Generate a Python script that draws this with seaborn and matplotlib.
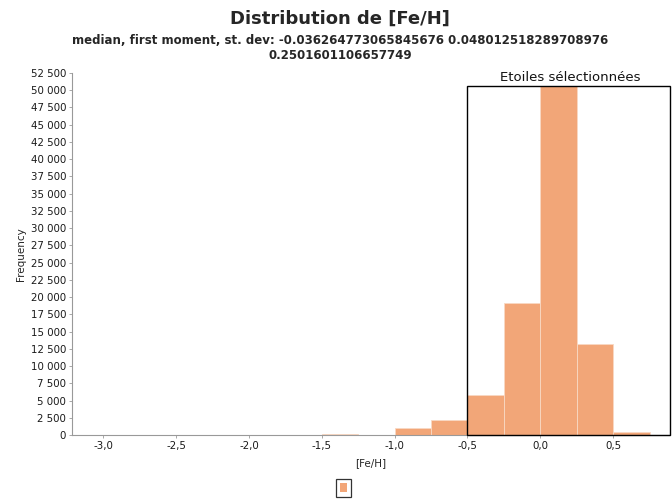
import matplotlib
matplotlib.use("Agg")
import matplotlib.pyplot as plt
import matplotlib.ticker as mticker
from matplotlib.patches import Rectangle, Patch
import numpy as np
import seaborn as sns

# ---- data ----
bin_edges = [-1.5, -1.25, -1.0, -0.75, -0.5, -0.25, 0.0, 0.25, 0.5, 0.75]
counts = [150, 60, 1070, 2230, 5750, 19150, 58000, 13250, 450]
x_ticks = [-3.0, -2.5, -2.0, -1.5, -1.0, -0.5, 0.0, 0.5]
y_ticks = list(range(0, 52501, 2500))
title = "Distribution de [Fe/H]"
subtitle = "median, first moment, st. dev: -0.036264773065845676 0.048012518289708976\n0.2501601106657749"
marker_label = "Etoiles sélectionnées"
marker_start = -0.5

centers = [(a + b) / 2 for a, b in zip(bin_edges[:-1], bin_edges[1:])]

sns.set_style("white")
plt.rcParams["font.family"] = ["DejaVu Sans"]

fig = plt.figure(figsize=(6.72, 4.99), dpi=100)
ax = fig.add_axes([0.1067, 0.128, 0.8903, 0.726])

bar_color = "#F2A678"
sns.histplot(x=centers, weights=counts, bins=bin_edges, ax=ax,
             color=bar_color, alpha=1.0, edgecolor="#F8D9C4", linewidth=0.6)

xmin, xmax = -3.217, 0.89
box_top = 50620
ax.set_xlim(xmin, xmax)
ax.set_ylim(0, 52500)

# clip the bars at the top of the marker box (plot area top)
for p in ax.patches:
    clip = Rectangle((xmin, 0), xmax - xmin, box_top, transform=ax.transData)
    p.set_clip_path(clip)

ax.set_xticks(x_ticks)
ax.set_yticks(y_ticks)
ax.xaxis.set_major_formatter(mticker.FuncFormatter(lambda v, p: f"{v:.1f}".replace(".", ",")))
ax.yaxis.set_major_formatter(mticker.FuncFormatter(lambda v, p: f"{int(v):,}".replace(",", " ")))
ax.tick_params(axis="both", labelsize=7.4, length=2, width=0.6, color="#999999", pad=2,
               left=True, bottom=True, direction="out", labelcolor="#1a1a1a")

for s in ["top", "right"]:
    ax.spines[s].set_visible(False)
for s in ["left", "bottom"]:
    ax.spines[s].set_color("#999999")
    ax.spines[s].set_linewidth(0.8)

# interval marker box
rect = Rectangle((marker_start, 0), xmax - marker_start - 0.003, box_top,
                 fill=False, edgecolor="black", linewidth=1.0, clip_on=False, zorder=5)
ax.add_patch(rect)
ax.text((marker_start + xmax) / 2 + 0.01, 50850, marker_label, ha="center", va="bottom",
        fontsize=9.5, family="DejaVu Sans", clip_on=False, color="#111111")

ax.set_xlabel("[Fe/H]", fontsize=7.5, labelpad=5)
ax.set_ylabel("Frequency", fontsize=7.5, labelpad=3)

fig.text(0.506, 0.963, title, ha="center", va="center", fontsize=13, fontweight="bold")
fig.text(0.506, 0.904, subtitle, ha="center", va="center", fontsize=8.5, fontweight="bold",
         linespacing=1.15)

leg = fig.legend(handles=[Patch(facecolor=bar_color, edgecolor="none")], labels=[""],
                 loc="center", bbox_to_anchor=(0.511, 0.022), frameon=True,
                 handlelength=0.7, handleheight=1.1, handletextpad=0.0, borderpad=0.45,
                 fancybox=False, fontsize=7)
leg.get_frame().set_edgecolor("black")
leg.get_frame().set_linewidth(0.9)

fig.savefig("out.png", dpi=100)
